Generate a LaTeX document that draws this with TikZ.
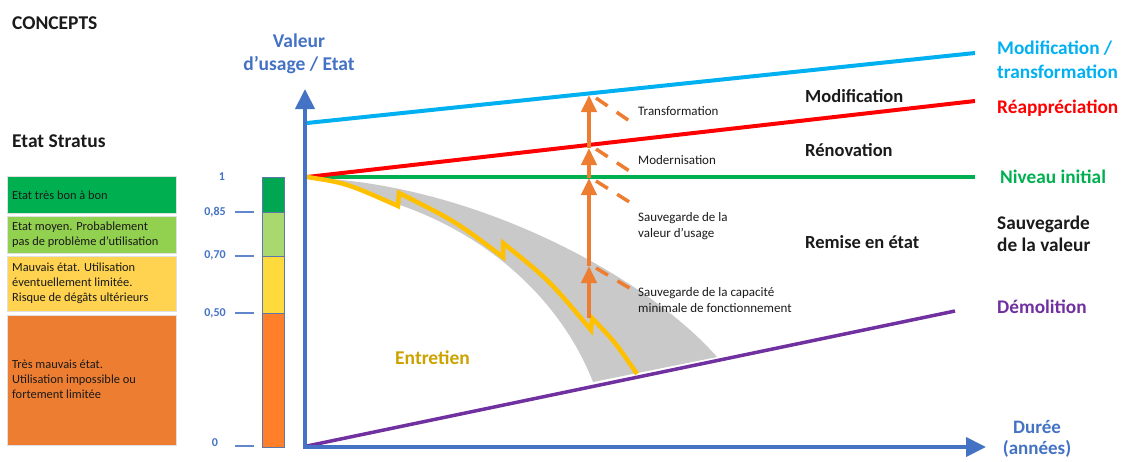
\documentclass[tikz,border=0pt]{standalone}
\usepackage{fontspec}
\setmainfont{Carlito}
\usetikzlibrary{arrows.meta}
\definecolor{axisblue}{HTML}{4472C4}
\definecolor{cyanl}{HTML}{00B0F0}
\definecolor{redl}{HTML}{FF0000}
\definecolor{greenl}{HTML}{00B050}
\definecolor{purplel}{HTML}{7030A0}
\definecolor{yellowl}{HTML}{FFC000}
\definecolor{orangel}{HTML}{ED7D31}
\definecolor{grayband}{HTML}{C9C9C9}
\definecolor{entretien}{HTML}{CCA200}
\definecolor{boxgreen}{HTML}{00B050}
\definecolor{boxlgreen}{HTML}{92D050}
\definecolor{boxyellow}{HTML}{FFD34F}
\definecolor{boxorange}{HTML}{ED7D31}
\definecolor{bargreen}{HTML}{00A651}
\definecolor{barlgreen}{HTML}{A9D86E}
\definecolor{baryellow}{HTML}{FFDA3D}
\definecolor{barorange}{HTML}{FF7F2A}
\definecolor{txt}{HTML}{1A1A1A}
\begin{document}
\begin{tikzpicture}[x=1pt,y=-1pt,
  axisline/.style={draw=axisblue,line width=4pt,-{Triangle[width=19pt,length=20pt]}},
  chartline/.style={line width=4pt},
  oarrow/.style={draw=orangel,line width=4pt,-{Triangle[width=15pt,length=17pt]}},
  odash/.style={draw=orangel,line width=3.5pt,dash pattern=on 14pt off 11pt},
  stratbox/.style={draw=black!12,line width=0.8pt},
  barseg/.style={draw=axisblue!60!gray,line width=0.8pt},
  tick/.style={draw=axisblue!85,line width=2pt},
  boxtext/.style={font=\fontsize{12.4}{15}\selectfont,text=txt,align=left,anchor=west,inner sep=0pt},
  scalelab/.style={font=\bfseries\fontsize{12}{14}\selectfont,text=axisblue,inner sep=0pt},
  title/.style={font=\bfseries\fontsize{19.5}{23}\selectfont,text=txt,anchor=west,inner sep=0pt},
  rightlab/.style={font=\bfseries\fontsize{19.3}{23.5}\selectfont,align=left,anchor=west,inner sep=0pt},
  midlab/.style={font=\bfseries\fontsize{18.5}{21}\selectfont,text=txt,anchor=west,inner sep=0pt},
  smalllab/.style={font=\fontsize{13}{16.5}\selectfont,text=txt,align=left,anchor=west,inner sep=0pt}
]
\useasboundingbox (0,0) rectangle (1122,461);

% titles
\node[title] (concepts) at (12,23) {CONCEPTS};
\node[title] (stratus) at (12,141) {Etat Stratus};

% Stratus boxes
\path[stratbox,fill=boxgreen]  (7,176) rectangle (176,213);
\path[stratbox,fill=boxlgreen] (7,216) rectangle (176,253);
\path[stratbox,fill=boxyellow] (7,256) rectangle (176,311);
\path[stratbox,fill=boxorange] (7,315) rectangle (176,445);
\node[boxtext] (b1) at (12,195) {Etat très bon à bon};
\node[boxtext] (b2) at (12,235) {Etat moyen. Probablement\\pas de problème d’utilisation};
\node[boxtext] (b3) at (12,283) {Mauvais état. Utilisation\\éventuellement limitée.\\Risque de dégâts ultérieurs};
\node[boxtext] (b4) at (12,379) {Très mauvais état.\\Utilisation impossible ou\\fortement limitée};

% scale bar
\path[barseg,fill=bargreen]  (262,177) rectangle (284,212);
\path[barseg,fill=barlgreen] (262,212) rectangle (284,256);
\path[barseg,fill=baryellow] (262,256) rectangle (284,313);
\path[barseg,fill=barorange] (262,313) rectangle (284,447);
\node[scalelab] (s1) at (222,177) {1};
\node[scalelab] (s85) at (215,212) {0,85};
\node[scalelab] (s70) at (215,255) {0,70};
\node[scalelab] (s50) at (215,313) {0,50};
\node[scalelab] (s0) at (215,443) {0};
\coordinate (t85a) at (235,212); \coordinate (t85b) at (254,212);
\coordinate (t70a) at (235,256); \coordinate (t70b) at (254,256);
\coordinate (t50a) at (235,313); \coordinate (t50b) at (254,313);
\coordinate (t0a) at (235,446);  \coordinate (t0b) at (254,446);
\draw[tick] (t85a) -- (t85b);
\draw[tick] (t70a) -- (t70b);
\draw[tick] (t50a) -- (t50b);
\draw[tick] (t0a) -- (t0b);

% gray band
\coordinate (g0) at (313,178);
\coordinate (g1) at (717,357);
\coordinate (g2) at (593,382);
\coordinate (g3) at (400,205);
\fill[grayband] (g0) .. controls (480,185) and (650,280) .. (g1)
  -- (g2) .. controls (565,310) and (500,240) .. (g3)
  .. controls (346,184) .. (g0) -- cycle;

% chart lines
\coordinate (P0) at (307,177);
\coordinate (Gend) at (975,177);
\coordinate (Rend) at (975,101);
\coordinate (Bst) at (307,123);
\coordinate (Bend) at (975,53);
\coordinate (Pst) at (307,446);
\coordinate (Pend) at (955,311);
\draw[chartline,greenl] (P0) -- (Gend);
\draw[chartline,redl] (P0) -- (Rend);
\draw[chartline,cyanl] (Bst) -- (Bend);
\draw[line width=3.5pt,purplel] (Pst) -- (Pend);

% yellow maintenance curve
\coordinate (j1b) at (398,206); \coordinate (j1t) at (399,193);
\coordinate (j2b) at (503,257); \coordinate (j2t) at (503,243);
\coordinate (j3b) at (591,330); \coordinate (j3t) at (592,318);
\coordinate (yend) at (637,374);
\draw[yellowl,line width=4.5pt,line join=miter,miter limit=4]
  (P0) .. controls (346,183) .. (j1b) -- (j1t)
  .. controls (455,221) .. (j2b) -- (j2t)
  .. controls (549,280) .. (j3b) -- (j3t)
  .. controls (615,342) .. (yend);

% orange arrows
\coordinate (a0) at (589,318);
\coordinate (a1) at (589,266);
\coordinate (a2) at (589,178);
\coordinate (a3) at (589,148);
\coordinate (a4) at (589,95);
\draw[oarrow] (a0) -- (a1);
\draw[oarrow] (a1) -- (a2);
\draw[oarrow] (a2) -- (a3);
\draw[oarrow] (a3) -- (a4);
\coordinate (d1a) at (596,98);  \coordinate (d1b) at (631,122);
\coordinate (d2a) at (596,149); \coordinate (d2b) at (631,172);
\coordinate (d3a) at (596,181); \coordinate (d3b) at (631,203);
\coordinate (d4a) at (596,268); \coordinate (d4b) at (631,289);
\draw[odash] (d1a) -- (d1b);
\draw[odash] (d2a) -- (d2b);
\draw[odash] (d3a) -- (d3b);
\draw[odash] (d4a) -- (d4b);

% axes
\coordinate (O) at (305,448);
\coordinate (Ytip) at (305,89);
\coordinate (Xtip) at (986,447);
\coordinate (Xst) at (303,447);
\draw[axisline] (O) -- (Ytip);
\draw[axisline] (Xst) -- (Xtip);

% axis labels
\node[font=\bfseries\fontsize{19.5}{22.5}\selectfont,text=axisblue,align=center,inner sep=0pt] (ylab) at (299,54) {Valeur\\d’usage / Etat};
\node[font=\bfseries\fontsize{19}{21}\selectfont,text=axisblue,align=center,inner sep=0pt] (xlab) at (1037,439) {Durée\\(années)};

% small labels
\node[smalllab] (l1) at (638,111) {Transformation};
\node[smalllab] (l2) at (638,160) {Modernisation};
\node[smalllab] (l3) at (638,226) {Sauvegarde de la\\valeur d’usage};
\node[smalllab] (l4) at (638,300) {Sauvegarde de la capacité\\minimale de fonctionnement};

% middle labels
\node[midlab] (m1) at (805,96) {Modification};
\node[midlab] (m2) at (805,150) {Rénovation};
\node[midlab] (m3) at (805,242) {Remise en état};
\node[font=\bfseries\fontsize{19.5}{22}\selectfont,text=entretien,anchor=west,inner sep=0pt] (ent) at (395,358) {Entretien};

% right labels
\node[rightlab,text=cyanl] (r1) at (997,60) {Modification /\\transformation};
\node[rightlab,text=redl] (r2) at (997,108) {Réappréciation};
\node[rightlab,text=greenl] (r3) at (1000,177) {Niveau initial};
\node[rightlab,text=txt,font=\bfseries\fontsize{19.3}{22}\selectfont] (r4) at (997,234) {Sauvegarde\\de la valeur};
\node[rightlab,text=purplel] (r5) at (997,307) {Démolition};
\end{tikzpicture}
\end{document}
